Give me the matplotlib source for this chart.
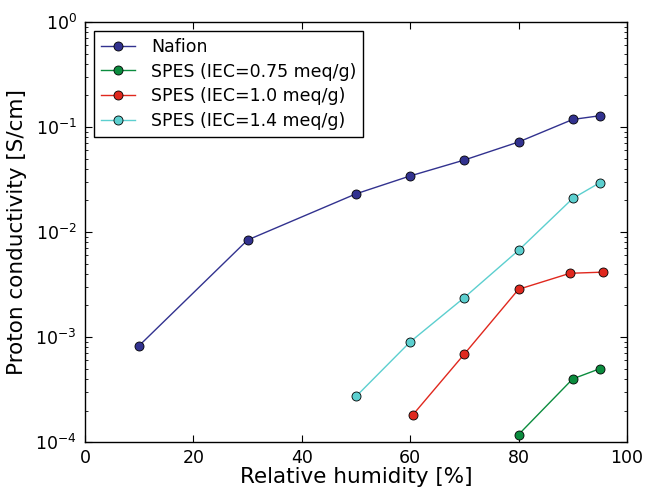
import matplotlib
matplotlib.use("Agg")
import matplotlib.pyplot as plt

nafion_x = [10, 30, 50, 60, 70, 80, 90, 95]
nafion_y = [8.3e-4, 8.4e-3, 0.0231, 0.0342, 0.0485, 0.0720, 0.118, 0.128]

spes075_x = [80, 90, 95]
spes075_y = [1.18e-4, 4.0e-4, 5.0e-4]

spes10_x = [60.5, 70, 80, 89.5, 95.5]
spes10_y = [1.82e-4, 6.9e-4, 2.85e-3, 4.05e-3, 4.15e-3]

spes14_x = [50, 60, 70, 80, 90, 95]
spes14_y = [2.72e-4, 9.0e-4, 2.38e-3, 6.7e-3, 0.0209, 0.0295]

labels = ["Nafion", "SPES (IEC=0.75 meq/g)", "SPES (IEC=1.0 meq/g)", "SPES (IEC=1.4 meq/g)"]
colors = ["#32328f", "#0b8c3e", "#e0281e", "#5ccfcf"]

fig = plt.figure(figsize=(6.49, 4.88), dpi=100)
ax = fig.add_axes([0.131, 0.094, 0.835, 0.861])

for xs, ys, lab, c in zip([nafion_x, spes075_x, spes10_x, spes14_x],
                          [nafion_y, spes075_y, spes10_y, spes14_y], labels, colors):
    ax.plot(xs, ys, '-o', color=c, lw=1.0, ms=6.5, mec='black', mew=0.6, label=lab)

ax.set_yscale('log')
ax.set_xlim(0, 100)
ax.set_ylim(1e-4, 1)
ax.set_xticks([0, 20, 40, 60, 80, 100])
ax.tick_params(which='both', direction='in', top=True, right=True, labelsize=12.5)
ax.tick_params(which='major', length=5, width=0.8)
ax.tick_params(which='minor', length=2.5, width=0.6)
ax.tick_params(axis='x', pad=5)
ax.tick_params(axis='y', pad=6)
ax.set_xlabel("Relative humidity [%]", fontsize=15.5, labelpad=0)
ax.set_ylabel("Proton conductivity [S/cm]", fontsize=15.5, labelpad=6)
for s in ax.spines.values():
    s.set_linewidth(1.0)

leg = ax.legend(loc='upper left', numpoints=1, fontsize=12.5, fancybox=False,
                edgecolor='black', framealpha=1, borderaxespad=0.5,
                handlelength=2.0, labelspacing=0.4, handletextpad=0.9)
leg.get_frame().set_linewidth(1.0)

fig.savefig("out.png", dpi=100)
